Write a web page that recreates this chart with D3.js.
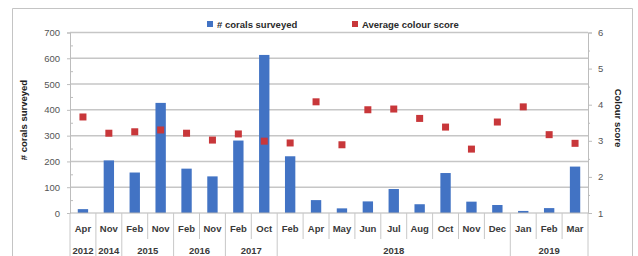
<!DOCTYPE html>
<html>
<head>
<meta charset="utf-8">
<script src="https://cdn.jsdelivr.net/npm/d3@7"></script>
<style>
  body { margin: 0; background: #fff; }
  svg { display: block; font-family: "Liberation Sans", Arial, sans-serif; }
</style>
</head>
<body>
<div id="chart"></div>
<script>
// data
const months = ["Apr","Nov","Feb","Nov","Feb","Nov","Feb","Oct","Feb","Apr","May","Jun","Jul","Aug","Oct","Nov","Dec","Jan","Feb","Mar"];
const years  = ["2012","2014","2015","2015","2016","2016","2017","2017","2018","2018","2018","2018","2018","2018","2018","2018","2018","2019","2019","2019"];
const corals = [15, 204, 157, 427, 172, 142, 281, 613, 220, 50, 18, 45, 93, 34, 155, 44, 31, 8, 19, 180];
const scores = [3.66, 3.21, 3.25, 3.30, 3.21, 3.02, 3.19, 2.99, 2.94, 4.08, 2.89, 3.86, 3.88, 3.62, 3.38, 2.77, 3.52, 3.94, 3.17, 2.93];
const leftTicks = [0, 100, 200, 300, 400, 500, 600, 700];
const rightTicks = [1, 2, 3, 4, 5, 6];

const W = 638, H = 256;
const plot = {left: 70, right: 588, top: 32.5, bottom: 213};
const blue = "#4273c4", red = "#c8373a";

const svg = d3.select("#chart").append("svg")
  .attr("width", W).attr("height", H);

// outer frame of the chart area
svg.append("path")
  .attr("d", `M12.5,${H} V8.5 H632.5 V${H}`)
  .attr("fill", "none").attr("stroke", "#c4c4c4");

const idx = months.map((m, i) => i);
const x = d3.scaleBand().domain(idx).range([plot.left, plot.right]).paddingInner(0.6).paddingOuter(0.3);
const xEdge = i => plot.left + i * (plot.right - plot.left) / months.length;

const yL = d3.scaleLinear().domain([0, 700]).range([plot.bottom, plot.top]);
const yR = d3.scaleLinear().domain([1, 6]).range([plot.bottom, plot.top]);

// gridlines
svg.append("g")
  .selectAll("line").data(leftTicks.slice(1)).join("line")
  .attr("x1", plot.left).attr("x2", plot.right)
  .attr("y1", d => yL(d)).attr("y2", d => yL(d))
  .attr("stroke", "#c6c6c6").attr("stroke-width", 1.5);

// left axis
const gL = svg.append("g").attr("transform", `translate(${plot.left},0)`)
  .call(d3.axisLeft(yL).tickValues(leftTicks).tickSize(3).tickPadding(7));
gL.select(".domain").attr("stroke", "#bdbdbd");
gL.selectAll(".tick line").attr("stroke", "#bdbdbd");
gL.selectAll("text").attr("font-size", 9.5).attr("fill", "#555");
svg.append("g").attr("transform", `translate(${plot.left},0)`)
  .call(d3.axisLeft(yL).tickValues(d3.range(50, 700, 100)).tickSize(-3).tickFormat(""))
  .call(g => g.select(".domain").remove())
  .selectAll("line").attr("stroke", "#bdbdbd");

// right axis
const gR = svg.append("g").attr("transform", `translate(${plot.right},0)`)
  .call(d3.axisRight(yR).tickValues(rightTicks).tickFormat(d3.format("d")).tickSize(4).tickPadding(6));
gR.select(".domain").attr("stroke", "#bdbdbd");
gR.selectAll(".tick line").attr("stroke", "#bdbdbd");
gR.selectAll("text").attr("font-size", 9.5).attr("fill", "#555");
svg.append("g").attr("transform", `translate(${plot.right},0)`)
  .call(d3.axisRight(yR).tickValues(d3.range(1.5, 6, 1)).tickSize(2).tickFormat(""))
  .call(g => g.select(".domain").remove())
  .selectAll("line").attr("stroke", "#bdbdbd");

// bars
svg.append("g").selectAll("rect").data(corals).join("rect")
  .attr("x", (d, i) => x(i)).attr("width", x.bandwidth())
  .attr("y", d => yL(d)).attr("height", d => plot.bottom - yL(d))
  .attr("fill", blue);

// markers
svg.append("g").selectAll("rect").data(scores).join("rect")
  .attr("x", (d, i) => x(i) + x.bandwidth() / 2 - 3.5).attr("width", 7)
  .attr("y", d => yR(d) - 3.5).attr("height", 7)
  .attr("fill", red);

// category axis: base line, separators, month and year labels
svg.append("line")
  .attr("x1", plot.left).attr("x2", plot.right)
  .attr("y1", plot.bottom).attr("y2", plot.bottom)
  .attr("stroke", "#b5b5b5").attr("stroke-width", 1.2);

const yearStarts = idx.filter(i => i === 0 || years[i] !== years[i - 1]);
const seps = d3.range(0, months.length + 1);
svg.append("g").selectAll("line").data(seps).join("line")
  .attr("x1", i => xEdge(i)).attr("x2", i => xEdge(i))
  .attr("y1", plot.bottom)
  .attr("y2", i => (yearStarts.includes(i) || i === months.length) ? H : 239)
  .attr("stroke", "#c8c8c8");

svg.append("g").selectAll("text").data(months).join("text")
  .attr("x", (d, i) => x(i) + x.bandwidth() / 2).attr("y", 232)
  .attr("text-anchor", "middle").attr("font-size", 9.5).attr("font-weight", "bold")
  .attr("fill", "#3a3a3a").text(d => d);

const yearGroups = yearStarts.map((s, k) => {
  const e = k + 1 < yearStarts.length ? yearStarts[k + 1] : months.length;
  return {label: years[s], mid: (xEdge(s) + xEdge(e)) / 2};
});
svg.append("g").selectAll("text").data(yearGroups).join("text")
  .attr("x", d => d.mid).attr("y", 254)
  .attr("text-anchor", "middle").attr("font-size", 9.5).attr("font-weight", "bold")
  .attr("fill", "#3a3a3a").text(d => d.label);

// axis titles
svg.append("text")
  .attr("transform", "translate(27,120) rotate(-90)")
  .attr("text-anchor", "middle").attr("font-size", 9.5).attr("font-weight", "bold")
  .attr("fill", "#222").text("# corals surveyed");
svg.append("text")
  .attr("transform", "translate(615,118) rotate(90)")
  .attr("text-anchor", "middle").attr("font-size", 9.5).attr("font-weight", "bold")
  .attr("fill", "#222").text("Colour score");

// legend
const legend = [{label: "# corals surveyed", color: blue, x: 207}, {label: "Average colour score", color: red, x: 352}];
const lg = svg.append("g").selectAll("g").data(legend).join("g")
  .attr("transform", d => `translate(${d.x},21)`);
lg.append("rect").attr("width", 6).attr("height", 6).attr("fill", d => d.color);
lg.append("text").attr("x", 10).attr("y", 6.5)
  .attr("font-size", 9.5).attr("font-weight", "bold").attr("fill", "#2a2a2a")
  .text(d => d.label);
</script>
</body>
</html>
